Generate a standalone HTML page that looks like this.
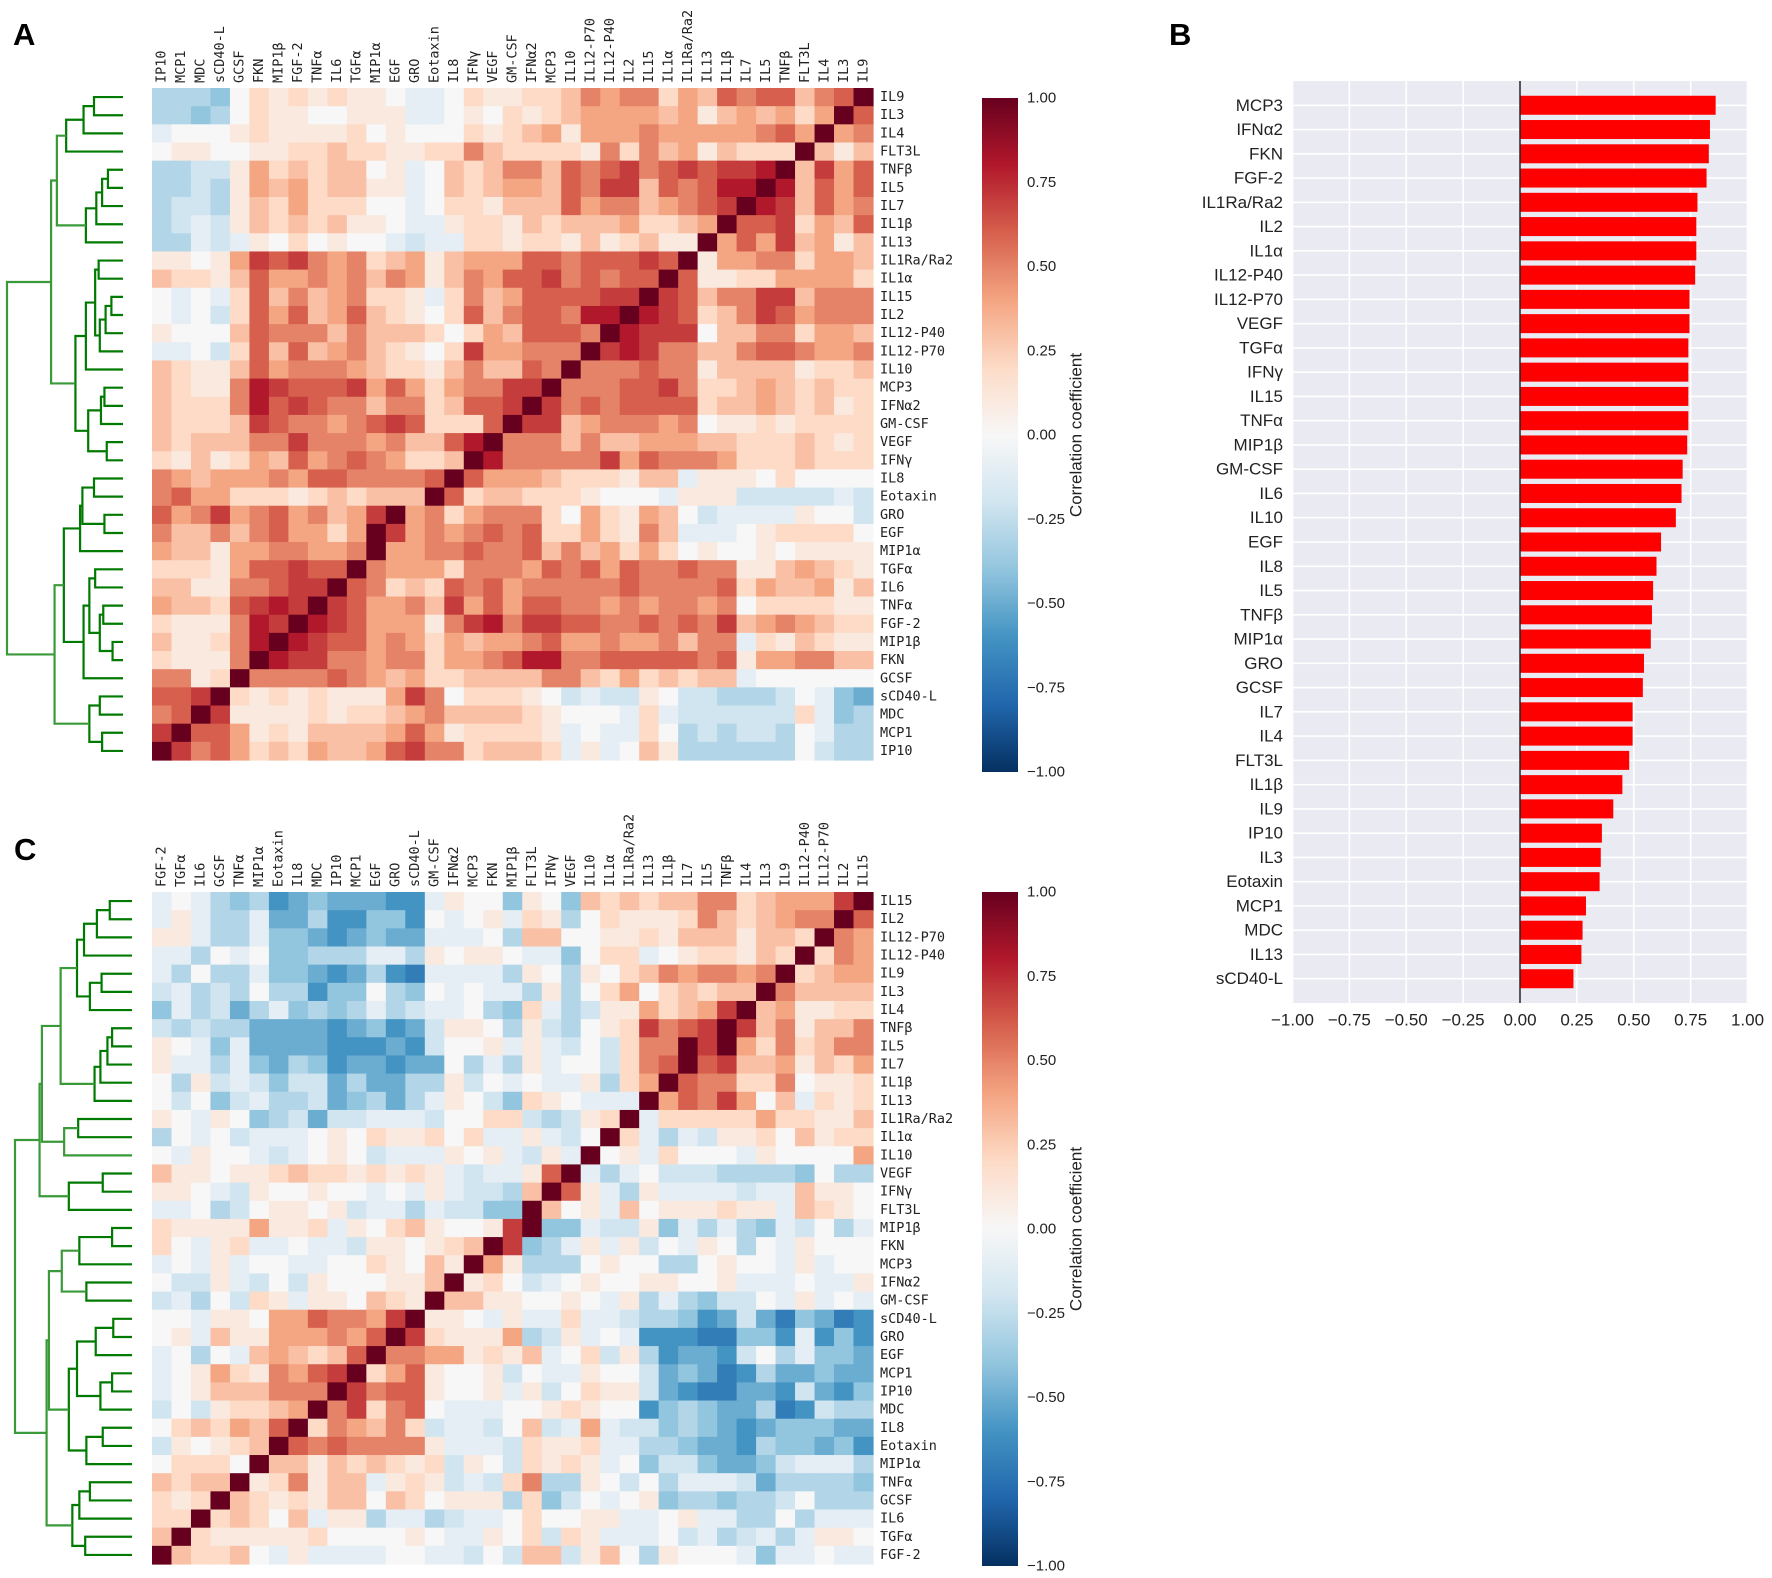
<!DOCTYPE html>
<html><head><meta charset="utf-8"><title>Cytokine correlation figure</title>
<style>
html,body{margin:0;padding:0;background:#fff;}
svg{display:block;}
.mono{font-family:"DejaVu Sans Mono","Liberation Mono",monospace;font-size:13.5px;fill:#222;}
.sans{font-family:"Liberation Sans","DejaVu Sans",sans-serif;fill:#222;}
.panel{font-family:"Liberation Sans",sans-serif;font-weight:bold;font-size:31px;fill:#000;}
</style></head>
<body>
<svg id="fig" xmlns="http://www.w3.org/2000/svg" width="1772" height="1578" viewBox="0 0 1772 1578">
<defs>
<linearGradient id="rdbu" x1="0" y1="0" x2="0" y2="1">
<stop offset="0" stop-color="#67001f"/><stop offset="0.1" stop-color="#b2182b"/><stop offset="0.2" stop-color="#d6604d"/><stop offset="0.3" stop-color="#f4a582"/><stop offset="0.4" stop-color="#fddbc7"/><stop offset="0.5" stop-color="#f7f7f7"/><stop offset="0.6" stop-color="#d1e5f0"/><stop offset="0.7" stop-color="#92c5de"/><stop offset="0.8" stop-color="#4393c3"/><stop offset="0.9" stop-color="#2166ac"/><stop offset="1" stop-color="#053061"/>
</linearGradient>
</defs>
<text class="panel" x="13" y="45">A</text>
<text class="panel" x="1169" y="45">B</text>
<text class="panel" x="14" y="860">C</text>
<g id="panelA"></g>
<g id="panelC"></g>
<g id="panelB"></g>
</svg>
<script>
const NS="http://www.w3.org/2000/svg";
const aCols=["IP10","MCP1","MDC","sCD40-L","GCSF","FKN","MIP1β","FGF-2","TNFα","IL6","TGFα","MIP1α","EGF","GRO","Eotaxin","IL8","IFNγ","VEGF","GM-CSF","IFNα2","MCP3","IL10","IL12-P70","IL12-P40","IL2","IL15","IL1α","IL1Ra/Ra2","IL13","IL1β","IL7","IL5","TNFβ","FLT3L","IL4","IL3","IL9"];
const aRows=["IL9","IL3","IL4","FLT3L","TNFβ","IL5","IL7","IL1β","IL13","IL1Ra/Ra2","IL1α","IL15","IL2","IL12-P40","IL12-P70","IL10","MCP3","IFNα2","GM-CSF","VEGF","IFNγ","IL8","Eotaxin","GRO","EGF","MIP1α","TGFα","IL6","TNFα","FGF-2","MIP1β","FKN","GCSF","sCD40-L","MDC","MCP1","IP10"];
// value codes: a=-1.0 ... k=0 ... u=+1.0 (0.1 steps)
const aMatrix=[
"hhhgk mlmlm llkjj kmllm mnpop pmonq pqqnp qu",
"hhghk mllkk llljj klkml mnooo onoln onomo uq",
"jkkkl mllll mklkk kmlmn olooo poooo opqou op",
"kllkk llmmn mmllm mpnmm mmlpm pnoln mmmun ln",
"hhiil omnmn nklj k nmnpp nqpqr pqrqr rsunr oq",
"hhihl onomn nlljk nmnoo nqprr nqpqs susnq oq",
"hiihl nmomm mkkjk mmlnn nqopp nopqr usrnq op",
"hijil nmnmn llkjj lmmln mnnno mmnou qqrmo nq",
"hhjij lkmkl kkjij jmmlm mlnlm nllu o qorno ln",
"llklo rqrpo pmnol nooo q qpqqq rqulo oppmo on",
"nmmln qoopo pnpol npoqq rpqpq quqll mmooo om",
"kjkjm qnpno pmmlj mpnoq qqqrr urqnp prrnp pp",
"kjkim qoqno qnmlk mqnpq qpssu srqmn prqop pp",
"lkkkn qpppn pnnnm kmonq qqpus rrrkn nppmo on",
"jjkim qnqno pnmlk mroop ppurs rppnn pqqpo op",
"nmlln qoppp onmml npnnq puppp qppln nnnlm mn",
"nmllp srqqq roqom opprr upppq qrpmm nonmn mm",
"nmmmp sqrqp pnppm nqqru rpqpq qqqmn nonmn lm",
"nmmmn rqppo pqrqm mmqur rnopp popkl lmlmm mm",
"nmnnn pprpp popnn qsupp pnpnn ooonn mmmnm lm",
"mlnlm onqop qpomm nuspp ppp ro qpppo mmmnm mm",
"ponoo opoqq ppppq uqooo nmmml nnjll lkmkk kk",
"pqoom mmlmn mnnnu qmnnm mmlkk kjlll iiiii ji",
"qopro pqopn oruop moppp mkoml onkij jjjlk ki",
"pnnpn pqoom ourop opqpq mmoml pnjjj klmmm mk",
"onnlo oppoo puoop pqppq npnom omklk klkll ll",
"mmmlo qqrqq upooo mpppo qpqoq ppqpp llnon ml",
"nnllp pqrru qpmnm qpqop ppppq ppppq monno ln",
"onnmq rsrur qoopn roqoq qppop oppop kmmmm ll",
"mlllp srusr qoool prspr rqqpp qpqpr nopon mm",
"nllmp susrq qopom onoop qoopo opnpp jmlnm ll",
"mlllp usrrp poppm oopqs sppqq qqqpq loopp nn",
"pplmu ppppq ponom mnnnn ppnmo mnmnn jkkkk kk",
"qqrum lmlml llorp kmmml kijii lkiih hhikj gf",
"pqurl lllml mmnop nnnnm lkkkj mjiii iiimj gh",
"ruqqo lmlnn nnoqo lmmmm ljkjj mkhih iihkj hh",
"urpqo mnmon noqrp pmnnn mjljk nlhhh hhhki hh"];
const cCols=["FGF-2","TGFα","IL6","GCSF","TNFα","MIP1α","Eotaxin","IL8","MDC","IP10","MCP1","EGF","GRO","sCD40-L","GM-CSF","IFNα2","MCP3","FKN","MIP1β","FLT3L","IFNγ","VEGF","IL10","IL1α","IL1Ra/Ra2","IL13","IL1β","IL7","IL5","TNFβ","IL4","IL3","IL9","IL12-P40","IL12-P70","IL2","IL15"];
const cRows=["IL15","IL2","IL12-P70","IL12-P40","IL9","IL3","IL4","TNFβ","IL5","IL7","IL1β","IL13","IL1Ra/Ra2","IL1α","IL10","VEGF","IFNγ","FLT3L","MIP1β","FKN","MCP3","IFNα2","GM-CSF","sCD40-L","GRO","EGF","MCP1","IP10","MDC","IL8","Eotaxin","MIP1α","TNFα","GCSF","IL6","TGFα","FGF-2"];
const cMatrix=[
"jkjhg hefgf ffeej lkkgl kgnmn mnnpp mnooo ru",
"jljhh jffhe eggek jkljm lhkml llmpn mnopp uq",
"lljhh jggfe fgffj jjkhn nkkll mlnnn lnnmu po",
"jjhkj kgghh hjjhl kllkj jgkmm jklmm lnmum po",
"jhkhh jggfe fhedj jjjhl khlkm npopp opumn oo",
"ijhih khheg gkhgk jkjjh lhkmo kmnmn nupnn nn",
"gjhif hjghg hjhij jkhgm jhill omnor unoll mm",
"ihihh ffffe fgefi llkhl ihklm rpqru rnpln np",
"lkjgj ffffe eefei kklj l jikim ppuru omp mn pp",
"ljjhj gfhge ffeff khjhl jkkim pquqr nnoln mo",
"khlij igiif hffhh likjk jjlhm ouqpp mmpkl lm",
"kikgi jhhif ghfhj lkigm lkjjj uoqpr oknjm lm",
"lkjlk ghifi ijjji kkmmi hilmu jmmmm momml ln",
"hkjki jjjkl kmllm kmjjl jikum jhjil lmknl mm",
"kjlkk jijkl kijjj lklji ljukl jmkkk jlkkk ko",
"nllkl lmnmm lmlml jijjl qujhj kiiih hhhgk hh",
"llkji lkklk kjkjl jiihn uqljh ljjjj ijjnl lk",
"jjkhi kllkl ijjhj iiggu nklj n klllm lljnm lk",
"mllll ollmj lkmnl kklru ggjii lgjhj hgjik hjh",
"mkjlm jjkjj illkl mnurg hjljl ikjlk hkjlk kk",
"jkjlj kkjjk kmlkn lu olh hhklk khhkl kkjlj kk",
"kiilj ikilk kklln ulmki jklkk llkkl jjjkj jl",
"ijhki mljll knmlu nnllk klkjl hjhgi ikjlj kj",
"kkjll koo qp porul lkjlj jmjji hhgef ifdgf de",
"kljnl loo op oqurm lllo h iljkj eeedd ggeje ge",
"jkhkj nonmn quppo olmln jkmil heffe ikhjg gf",
"jklom lpoqr umoql kklik jjlkk ifgfd ehffg ff",
"jklnn npppu rpqql kkljl ikmll ifedd ffeif eg",
"ikilm mnoup rmpqk jjjkk lmlkk eghgf fhdei hh",
"kmnmo nqump onpmi jjikn ijoji ighgf efggg ff",
"ilklm nuqpq ppppl jjjim llmjj hhgff ehggf ge",
"kmmmk unnln mnmlm ilkim lmljk giigf fgijj jh",
"nmnnu lmpln njlml ijimp hhlki khjjj ifhhh hg",
"mlmun mlmln nknmk lllhm gikjk lghhg hhikh hh",
"mmumn mknjl lhjjh ijjkm kkllj jkljj hhkhj jj",
"numl l lllmk kkklk jjlkm imljj jkijh ijhjl lk",
"unmmn kjljj jjkkj jikin nilnk hlkkk jgjjk jj"];
// Dendrogram linkages: [childA, childB, height(0..1)] ; leaves 0..36, new nodes 37+
const aLinkage=[[0,1,.25],[37,2,.34],[38,3,.49],[4,5,.13],[40,6,.18],[41,7,.23],[42,8,.32],[39,43,.57],[9,10,.21],[11,12,.10],[46,13,.15],[47,14,.20],[45,48,.24],[49,15,.32],[16,17,.16],[51,18,.19],[19,20,.14],[52,53,.30],[50,54,.41],[44,55,.62],[21,22,.25],[23,24,.16],[57,58,.35],[59,25,.37],[26,27,.24],[28,29,.17],[30,31,.09],[62,63,.20],[61,64,.29],[65,32,.34],[60,66,.51],[33,34,.20],[35,36,.18],[68,69,.29],[67,70,.59],[56,71,1.0]];
const cLinkage=[[0,1,.19],[37,2,.30],[38,3,.41],[4,5,.26],[40,6,.36],[39,41,.47],[7,8,.17],[43,9,.21],[44,10,.27],[45,11,.32],[42,46,.61],[12,13,.46],[48,14,.58],[47,49,.77],[15,16,.25],[51,17,.54],[50,52,.79],[18,19,.17],[54,20,.45],[21,22,.39],[55,56,.60],[23,24,.16],[58,25,.31],[26,27,.17],[60,28,.27],[59,61,.47],[29,30,.25],[63,31,.39],[62,64,.54],[57,65,.71],[32,33,.36],[67,34,.45],[35,36,.40],[68,69,.51],[66,70,.73],[53,71,1.0]];
const cbTicks=["1.00","0.75","0.50","0.25","0.00","−0.25","−0.50","−0.75","−1.00"];
const cbTickValues=[1,0.75,0.5,0.25,0,-0.25,-0.5,-0.75,-1];
const barNames=["MCP3","IFNα2","FKN","FGF-2","IL1Ra/Ra2","IL2","IL1α","IL12-P40","IL12-P70","VEGF","TGFα","IFNγ","IL15","TNFα","MIP1β","GM-CSF","IL6","IL10","EGF","IL8","IL5","TNFβ","MIP1α","GRO","GCSF","IL7","IL4","FLT3L","IL1β","IL9","IP10","IL3","Eotaxin","MCP1","MDC","IL13","sCD40-L"];
const barValues=[0.86,0.835,0.83,0.82,0.78,0.775,0.775,0.77,0.745,0.745,0.74,0.74,0.74,0.74,0.735,0.715,0.71,0.685,0.62,0.60,0.585,0.58,0.575,0.545,0.54,0.495,0.495,0.48,0.45,0.41,0.36,0.355,0.35,0.29,0.275,0.27,0.235];
const barTicks=["−1.00","−0.75","−0.50","−0.25","0.00","0.25","0.50","0.75","1.00"];
const barTickValues=[-1,-0.75,-0.5,-0.25,0,0.25,0.5,0.75,1];

const stops=[[103,0,31],[178,24,43],[214,96,77],[244,165,130],[253,219,199],[247,247,247],[209,229,240],[146,197,222],[67,147,195],[33,102,172],[5,48,97]];
function rdbu(v){ // v in [-1,1]
  let t=(1-v)/2*10; if(t<0)t=0; if(t>10)t=10;
  const i=Math.min(9,Math.floor(t)), f=t-i, a=stops[i], b=stops[i+1];
  return "rgb("+[0,1,2].map(k=>Math.round(a[k]+(b[k]-a[k])*f)).join(",")+")";
}
function decode(s){
  let r=s.replace(/\s/g,"");
  while(r.length<37) r+="k";
  return r.slice(0,37).split("").map(ch=>(ch.charCodeAt(0)-107)/10);
}
function el(tag,attrs,parent){const e=document.createElementNS(NS,tag);for(const k in attrs)e.setAttribute(k,attrs[k]);parent.appendChild(e);return e;}

function heatPanel(g,cols,rows,matrix,link,o){
  const cw=(o.x1-o.x0)/37, ch=(o.y1-o.y0)/37;
  const xs=i=>o.x0+i*cw, ys=j=>o.y0+j*ch;
  matrix.forEach((rowStr,j)=>{
    decode(rowStr).forEach((v,i)=>{
      const r=el("rect",{x:xs(i).toFixed(2),y:ys(j).toFixed(2),width:(cw+0.6).toFixed(2),height:(ch+0.6).toFixed(2),fill:rdbu(v)},g);
      
      
    });
  });
  cols.forEach((c,i)=>{
    const cx=xs(i)+cw/2, y=o.y0-5;
    const t=el("text",{class:"mono",x:cx,y:y,transform:"rotate(-90 "+cx+" "+y+")","dominant-baseline":"central"},g);
    t.textContent=c;
    
    
  });
  rows.forEach((r,j)=>{
    const t=el("text",{class:"mono",x:o.x1+7,y:ys(j)+ch/2,"dominant-baseline":"central"},g);
    t.textContent=r;
    
    
  });
  // dendrogram
  const dx=h=>o.leafX-h*(o.leafX-o.rootX);
  const pos=[];
  for(let j=0;j<37;j++) pos.push({y:ys(j)+ch/2,h:0});
  link.forEach(L=>{
    const a=pos[L[0]], b=pos[L[1]], x=dx(L[2]);
    const p=el("path",{d:"M"+dx(a.h)+" "+a.y+"H"+x+"V"+b.y+"H"+dx(b.h),fill:"none",stroke:L[2]>0.55?"#3a9a3a":"#007a00","stroke-width":2.2},g);
    
    
    pos.push({y:(a.y+b.y)/2,h:L[2]});
  });
  // colorbar
  const cb=el("rect",{x:o.cbx,y:o.cby0,width:36,height:o.cby1-o.cby0,fill:"url(#rdbu)"},g);
  
  
  const cbs=v=>o.cby0+(1-v)/2*(o.cby1-o.cby0);
  cbTicks.forEach((lab,k)=>{
    const t=el("text",{class:"sans",x:o.cbx+45,y:cbs(cbTickValues[k]),"font-size":"15","dominant-baseline":"central"},g);
    t.textContent=lab;
    
    
  });
  const my=(o.cby0+o.cby1)/2;
  const lt=el("text",{class:"sans",x:1076,y:my,"font-size":"17","text-anchor":"middle","dominant-baseline":"central",transform:"rotate(-90 1076 "+my+")"},g);
  lt.textContent="Correlation coefficient";
  
  
}
heatPanel(document.getElementById("panelA"),aCols,aRows,aMatrix,aLinkage,{x0:152,x1:873,y0:88,y1:760,leafX:123,rootX:7,cbx:982,cby0:98,cby1:772});
heatPanel(document.getElementById("panelC"),cCols,cRows,cMatrix,cLinkage,{x0:152,x1:873,y0:892,y1:1564,leafX:132,rootX:15,cbx:982,cby0:892,cby1:1566});

// Bar chart B
(function(){
  const g=document.getElementById("panelB");
  const L=1292,R=1747,T=81,B=1003;
  const xs=v=>1520+v*227.5;
  const step=(B-T)/38, ys=i=>T+step*(i+1);
  const bg=el("rect",{x:L,y:T,width:R-L,height:B-T,fill:"#eaeaf2"},g);
  
  
  barTickValues.forEach(v=>{
    const l=el("line",{x1:xs(v),x2:xs(v),y1:T,y2:B,stroke:"#fff","stroke-width":1.6},g);
    
    
  });
  barNames.forEach((n,i)=>{
    const l=el("line",{x1:L,x2:R,y1:ys(i),y2:ys(i),stroke:"#fff","stroke-width":1.6},g);
    
    
  });
  barNames.forEach((n,i)=>{
    const v=barValues[i];
    const r=el("rect",{x:Math.min(xs(0),xs(v)),y:ys(i)-9.5,width:Math.abs(xs(v)-xs(0)),height:19,fill:"#ff0000"},g);
    
    
    const t=el("text",{class:"sans",x:1283,y:ys(i),"font-size":"17","text-anchor":"end","dominant-baseline":"central"},g);
    t.textContent=n;
    
    
  });
  const z=el("line",{x1:xs(0),x2:xs(0),y1:T,y2:B,stroke:"#222","stroke-width":1.5},g);
  
  
  barTicks.forEach((lab,k)=>{
    const t=el("text",{class:"sans",x:xs(barTickValues[k]),y:1020,"font-size":"17","text-anchor":"middle","dominant-baseline":"central"},g);
    t.textContent=lab;
    
    
  });
})();
</script>
</body></html>
